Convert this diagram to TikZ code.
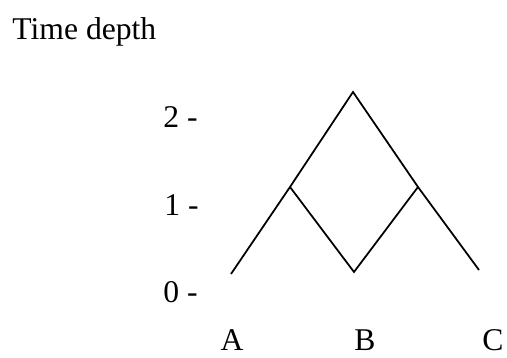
\documentclass[tikz,border=0pt]{standalone}
\usepackage{fontspec}
\setmainfont{Liberation Serif}
\usepackage{tikz}
\usetikzlibrary{positioning}

\begin{document}
\begin{tikzpicture}[
    x=0.015cm, y=-0.015cm,
    lbl/.style={inner sep=0pt, font=\fontsize{13.5}{16}\selectfont},
    branch/.style={line width=0.75pt, line join=miter}
]
\useasboundingbox (0,0) rectangle (507,358);

% axis
\node[lbl, anchor=base west] (depth) at (12,40) {Time depth};
\node[lbl, anchor=base west] (t2) at (163,128) {2 -};
\node[lbl, anchor=base west] (t1) at (164,216) {1 -};
\node[lbl, anchor=base west] (t0) at (163,303) {0 -};

% tree
\coordinate (root) at (353,92);
\coordinate (lsplit) at (290,187);
\coordinate (rsplit) at (418,187);
\coordinate (aend) at (231,274);
\coordinate (bend) at (354,272);
\coordinate (cend) at (479,270);

\draw[branch] (aend) -- (lsplit) -- (root) -- (rsplit) -- (cend);
\draw[branch] (lsplit) -- (bend) -- (rsplit);

% languages
\node[lbl, anchor=base] (A) at (232,351) {A};
\node[lbl, anchor=base] (B) at (365,351) {B};
\node[lbl, anchor=base] (C) at (493,351) {C};
\end{tikzpicture}
\end{document}
